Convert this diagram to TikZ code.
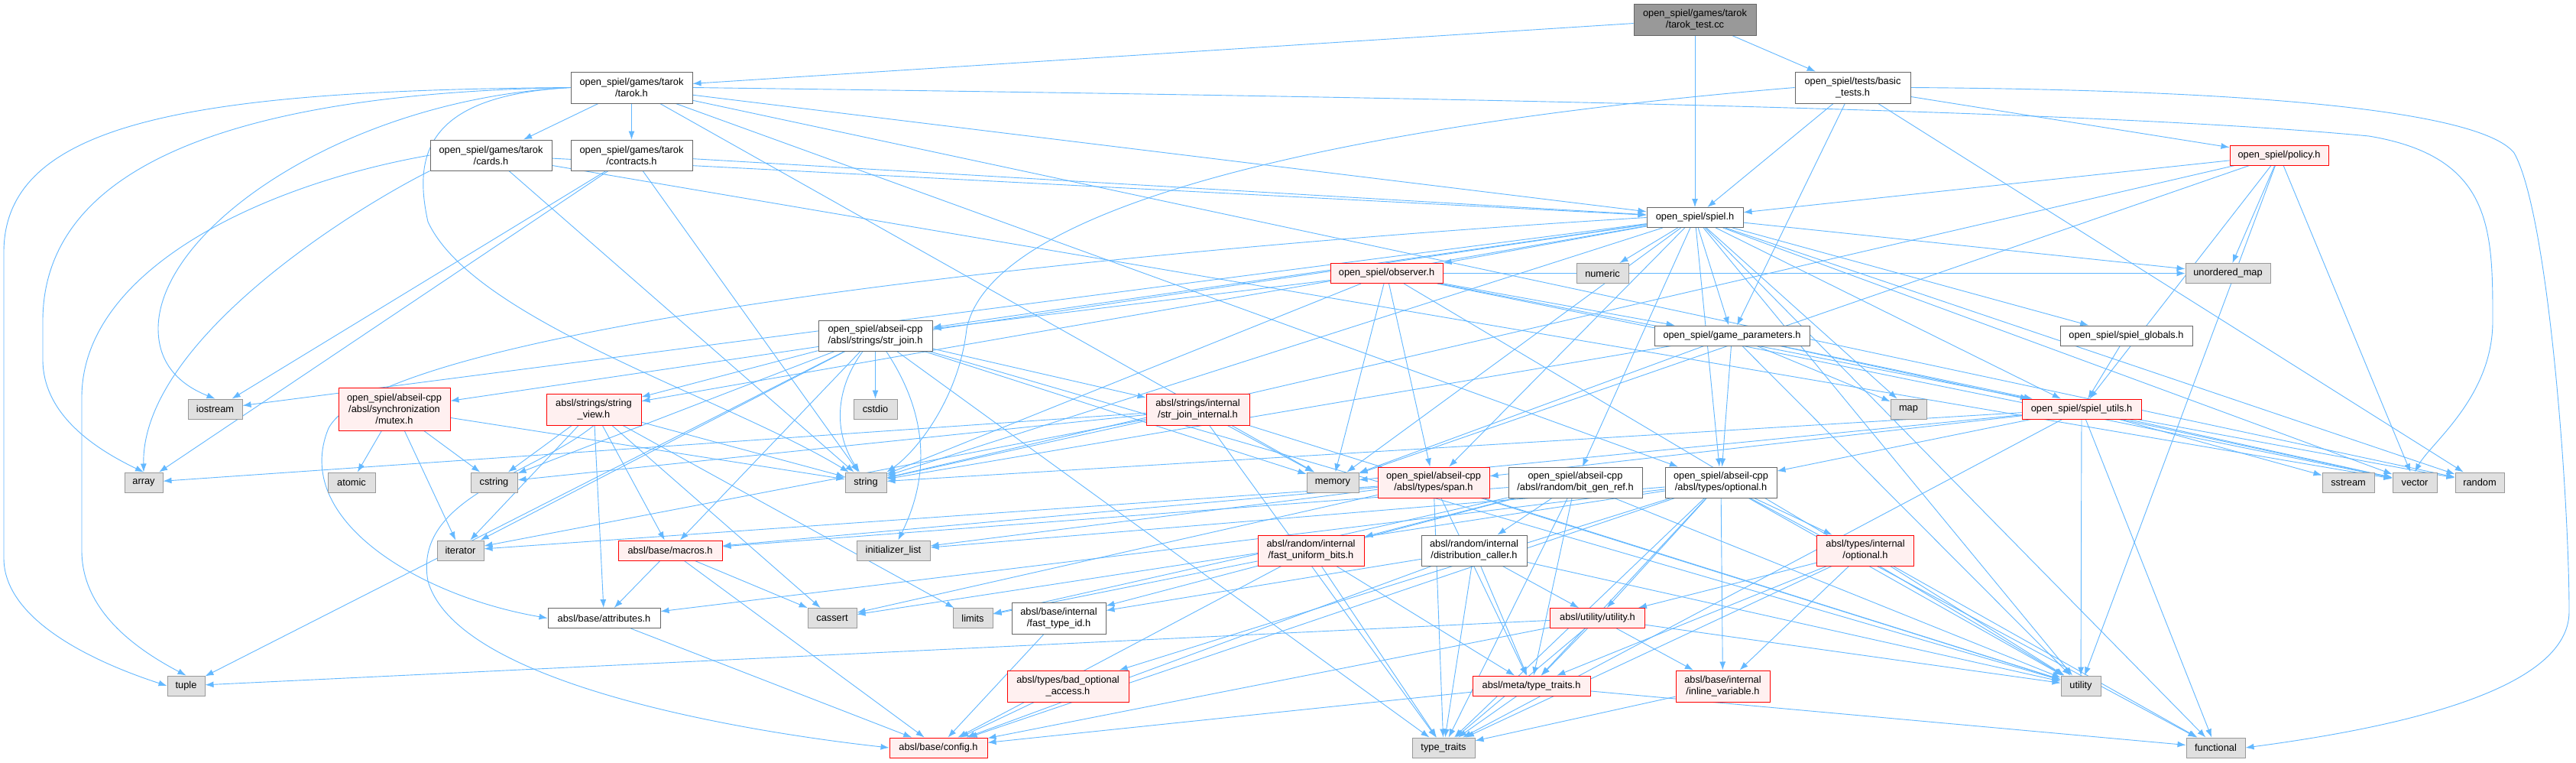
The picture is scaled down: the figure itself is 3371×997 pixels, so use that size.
\documentclass[tikz,border=0pt]{standalone}
\usepackage{fontspec}
\setmainfont{Liberation Sans}
\usetikzlibrary{arrows.meta}
\pgfdeclarelayer{bg}
\pgfsetlayers{bg,main}
\definecolor{edgec}{HTML}{63B8FF}
\definecolor{redb}{HTML}{FF0000}
\definecolor{redf}{HTML}{FFF0F0}
\definecolor{sysf}{HTML}{E0E0E0}
\definecolor{sysb}{HTML}{999999}
\definecolor{plainb}{HTML}{666666}
\definecolor{rootf}{HTML}{999999}
\newcommand{\myedge}[2]{\draw[e] (#1) -- (#2);}
\begin{document}
\begin{tikzpicture}[x=1pt,y=-1pt,font=\fontsize{12.8}{15}\selectfont,
  box/.style={rectangle,inner sep=0pt,align=center,line width=1pt,text=black},
  plain/.style={box,draw=plainb,fill=white},
  sys/.style={box,draw=sysb,fill=sysf},
  red/.style={box,draw=redb,fill=redf},
  rootn/.style={box,draw=plainb,fill=rootf},
  sz/.style 2 args={minimum width=#1pt,minimum height=#2pt},
  e/.style={draw=edgec,line width=0.9pt,-{Latex[length=11pt,width=8pt]}}]
\useasboundingbox (0,0) rectangle (3371,997);
% nodes
\node[rootn,sz={160}{41}] (root) at (2218,25.5) {open\_spiel/games/tarok\\/tarok\_test.cc};
\node[plain,sz={159}{41}] (tarok) at (826.5,114.5) {open\_spiel/games/tarok\\/tarok.h};
\node[plain,sz={151}{41}] (basic) at (2424.5,114.5) {open\_spiel/tests/basic\\\_tests.h};
\node[plain,sz={159}{40}] (cards) at (642.5,203) {open\_spiel/games/tarok\\/cards.h};
\node[plain,sz={159}{40}] (contracts) at (826.5,203) {open\_spiel/games/tarok\\/contracts.h};
\node[red,sz={129}{26}] (policy) at (2982.5,203) {open\_spiel/policy.h};
\node[plain,sz={126}{26}] (spiel) at (2218,284.5) {open\_spiel/spiel.h};
\node[red,sz={147}{26}] (observer) at (1814.5,357.5) {open\_spiel/observer.h};
\node[sys,sz={68}{26}] (numeric) at (2097,357.5) {numeric};
\node[sys,sz={111}{26}] (umap) at (2915.5,357.5) {unordered\_map};
\node[plain,sz={149}{40}] (strjoin) at (1145.5,439) {open\_spiel/abseil-cpp\\/absl/strings/str\_join.h};
\node[plain,sz={203}{26}] (gparams) at (2266.5,439) {open\_spiel/game\_parameters.h};
\node[plain,sz={173}{26}] (globals) at (2782.5,439) {open\_spiel/spiel\_globals.h};
\node[sys,sz={71}{26}] (iostream) at (281.5,535) {iostream};
\node[red,sz={146}{56}] (mutex) at (516,535) {open\_spiel/abseil-cpp\\/absl/synchronization\\/mutex.h};
\node[red,sz={124}{41}] (sview) at (777,535.5) {absl/strings/string\\\_view.h};
\node[sys,sz={57}{26}] (cstdio) at (1145.5,535) {cstdio};
\node[red,sz={135}{41}] (sjint) at (1567.5,535.5) {absl/strings/internal\\/str\_join\_internal.h};
\node[sys,sz={47}{26}] (map) at (2497.5,535) {map};
\node[red,sz={156}{26}] (sutils) at (2724,535) {open\_spiel/spiel\_utils.h};
\node[sys,sz={50}{26}] (array) at (188,631) {array};
\node[sys,sz={62}{26}] (atomic) at (460,631) {atomic};
\node[sys,sz={61}{26}] (cstring) at (646.5,631) {cstring};
\node[sys,sz={54}{26}] (string) at (1133,631) {string};
\node[sys,sz={68}{26}] (memory) at (1744,631) {memory};
\node[red,sz={146}{40}] (span) at (1876,631) {open\_spiel/abseil-cpp\\/absl/types/span.h};
\node[plain,sz={175}{40}] (bitgen) at (2061.5,631) {open\_spiel/abseil-cpp\\/absl/random/bit\_gen\_ref.h};
\node[plain,sz={146}{40}] (optional) at (2252,631) {open\_spiel/abseil-cpp\\/absl/types/optional.h};
\node[sys,sz={68}{26}] (sstream) at (3073,631) {sstream};
\node[sys,sz={58}{26}] (vector) at (3160,631) {vector};
\node[sys,sz={64}{26}] (random) at (3245,631) {random};
\node[sys,sz={61}{26}] (iterator) at (602.5,720) {iterator};
\node[red,sz={136}{26}] (macros) at (877,720) {absl/base/macros.h};
\node[sys,sz={96}{26}] (initlist) at (1169,720) {initializer\_list};
\node[red,sz={139}{40}] (fub) at (1715.5,720) {absl/random/internal\\/fast\_uniform\_bits.h};
\node[plain,sz={138}{40}] (dcall) at (1929,720) {absl/random/internal\\/distribution\_caller.h};
\node[red,sz={127}{40}] (iopt) at (2441,720) {absl/types/internal\\/optional.h};
\node[plain,sz={147}{26}] (attr) at (790.5,808.5) {absl/base/attributes.h};
\node[sys,sz={64}{26}] (cassert) at (1089,808.5) {cassert};
\node[sys,sz={52}{26}] (limits) at (1273,808.5) {limits};
\node[plain,sz={123}{41}] (ftid) at (1385.5,808.5) {absl/base/internal\\/fast\_type\_id.h};
\node[red,sz={124}{26}] (uutil) at (2090.5,808.5) {absl/utility/utility.h};
\node[sys,sz={49}{26}] (tuple) at (243.5,897) {tuple};
\node[red,sz={159}{41}] (badopt) at (1397.5,897.5) {absl/types/bad\_optional\\\_access.h};
\node[red,sz={154}{26}] (mtt) at (2004,897) {absl/meta/type\_traits.h};
\node[red,sz={123}{41}] (ivar) at (2254.5,897.5) {absl/base/internal\\/inline\_variable.h};
\node[sys,sz={52}{26}] (utility) at (2723,897) {utility};
\node[red,sz={128}{26}] (config) at (1228,978) {absl/base/config.h};
\node[sys,sz={82}{26}] (ttraits) at (1889,978) {type\_traits};
\node[sys,sz={77}{26}] (functional) at (2899.5,978) {functional};
% edges
\begin{pgfonlayer}{bg}
\fill[white] (0,0) rectangle (3371,997);
\myedge{root}{tarok}\myedge{root}{spiel}\myedge{root}{basic}
% tarok
\myedge{tarok}{cards}\myedge{tarok}{contracts}\myedge{tarok}{spiel}
\myedge{tarok}{memory}\myedge{tarok}{random}\myedge{tarok}{optional}
\draw[e] (tarok.west) .. controls (250,118) and (5,160) .. (5,330) -- (5,730) .. controls (5,810) and (120,865) .. (tuple.west);
\draw[e] (tarok.west) .. controls (300,122) and (56,220) .. (56,420) -- (56,470) .. controls (56,540) and (120,585) .. (array.north);
\draw[e] (tarok.west) .. controls (450,130) and (207,300) .. (207,430) .. controls (207,480) and (240,505) .. (iostream.north);
\draw[e] (tarok.west) .. controls (560,125) and (540,200) .. (560,290) .. controls (620,420) and (950,520) .. (string);
\draw[e] (tarok.east) .. controls (1700,125) and (2700,140) .. (3100,178) .. controls (3262,205) and (3262,300) .. (3262,420) .. controls (3262,520) and (3180,580) .. (vector.north);
% cards / contracts
\myedge{cards}{spiel}\myedge{cards}{vector}\myedge{cards}{string}
\draw[e] (cards.west) .. controls (350,240) and (107,350) .. (107,520) -- (107,720) .. controls (107,800) and (180,850) .. (tuple.north);
\draw[e] (cards.south west) .. controls (450,280) and (185,450) .. (array.north);
\myedge{contracts}{spiel}\myedge{contracts}{string}\myedge{contracts}{iostream}\myedge{contracts}{array}
% basic
\myedge{basic}{spiel}\myedge{basic}{gparams}\myedge{basic}{policy}\myedge{basic}{random}
\draw[e] (basic.west) .. controls (1800,160) and (1300,260) .. (1265,430) .. controls (1255,520) and (1200,590) .. (string.north east);
\draw[e] (basic.east) .. controls (3000,118) and (3250,150) .. (3290,200) .. controls (3335,280) and (3362,650) .. (3362,800) .. controls (3362,900) and (3150,950) .. (functional.east);
% policy
\myedge{policy}{spiel}\myedge{policy}{sutils}\myedge{policy}{umap}\myedge{policy}{vector}
\myedge{policy}{utility}\myedge{policy}{string}\myedge{policy}{memory}
% spiel
\myedge{spiel}{observer}\myedge{spiel}{numeric}\myedge{spiel}{gparams}\myedge{spiel}{strjoin}
\myedge{spiel}{mutex}\myedge{spiel}{sview}\myedge{spiel}{memory}\myedge{spiel}{span}
\myedge{spiel}{bitgen}\myedge{spiel}{optional}\myedge{spiel}{map}\myedge{spiel}{sutils}
\myedge{spiel}{globals}\myedge{spiel}{umap}\myedge{spiel}{vector}\myedge{spiel}{random}
\myedge{spiel}{functional}\myedge{spiel}{utility}\myedge{spiel}{iostream}\myedge{spiel}{string}
\draw[e] (spiel.west) .. controls (1400,330) and (500,430) .. (430,560) .. controls (380,680) and (550,780) .. (attr.west);
% observer
\myedge{observer}{memory}\myedge{observer}{span}\myedge{observer}{gparams}\myedge{observer}{string}
\myedge{observer}{strjoin}\myedge{observer}{sutils}\myedge{observer}{umap}\myedge{observer}{vector}
\myedge{observer}{utility}
% strjoin
\myedge{strjoin}{cstdio}\myedge{strjoin}{sjint}\myedge{strjoin}{sview}
\draw[e] (strjoin) to[bend right=35] (string);
\draw[e] (strjoin) to[bend left=30] (initlist);
\myedge{strjoin}{macros}\myedge{strjoin}{iterator}\myedge{strjoin}{cstring}
\myedge{strjoin}{tuple}\myedge{strjoin}{ttraits}\myedge{strjoin}{utility}\myedge{strjoin}{memory}
% gparams, globals
\myedge{gparams}{map}\myedge{gparams}{memory}\myedge{gparams}{string}\myedge{gparams}{utility}
\myedge{gparams}{vector}\myedge{gparams}{sutils}\myedge{gparams}{optional}
\myedge{globals}{sutils}
% spiel_utils
\myedge{sutils}{sstream}\myedge{sutils}{vector}\myedge{sutils}{random}\myedge{sutils}{utility}
\myedge{sutils}{functional}\myedge{sutils}{string}\myedge{sutils}{memory}\myedge{sutils}{optional}
\myedge{sutils}{span}\myedge{sutils}{ttraits}
% mutex, string_view
\myedge{mutex}{atomic}\myedge{mutex}{cstring}\myedge{mutex}{iterator}\myedge{mutex}{string}
\myedge{sview}{cstring}\myedge{sview}{iterator}\myedge{sview}{attr}\myedge{sview}{macros}
\myedge{sview}{string}\myedge{sview}{limits}\myedge{sview}{cassert}
\draw[e] (sview.south) .. controls (700,620) and (540,650) .. (560,760) .. controls (600,900) and (1000,960) .. (config.west);
% str_join_internal
\myedge{sjint}{array}\myedge{sjint}{memory}\myedge{sjint}{string}\myedge{sjint}{iterator}
\myedge{sjint}{cstring}\myedge{sjint}{ttraits}\myedge{sjint}{utility}
% span
\myedge{span}{cassert}\myedge{span}{initlist}\myedge{span}{iterator}\myedge{span}{ttraits}
\myedge{span}{utility}\myedge{span}{macros}\myedge{span}{mtt}
% bit_gen_ref
\myedge{bitgen}{limits}\myedge{bitgen}{ttraits}\myedge{bitgen}{utility}\myedge{bitgen}{ftid}
\myedge{bitgen}{macros}\myedge{bitgen}{mtt}\myedge{bitgen}{dcall}\myedge{bitgen}{fub}
% optional
\myedge{optional}{config}\myedge{optional}{uutil}\myedge{optional}{cassert}\myedge{optional}{functional}
\myedge{optional}{initlist}\myedge{optional}{ttraits}\myedge{optional}{utility}\myedge{optional}{attr}
\myedge{optional}{ivar}\myedge{optional}{mtt}\myedge{optional}{badopt}\myedge{optional}{iopt}
% distribution_caller, fast_uniform_bits, fast_type_id
\myedge{dcall}{utility}\myedge{dcall}{ttraits}\myedge{dcall}{config}\myedge{dcall}{ftid}
\myedge{dcall}{mtt}\myedge{dcall}{uutil}
\myedge{fub}{limits}\myedge{fub}{ttraits}\myedge{fub}{config}\myedge{fub}{mtt}
\myedge{ftid}{config}
% internal optional
\myedge{iopt}{functional}\myedge{iopt}{ttraits}\myedge{iopt}{utility}\myedge{iopt}{ivar}
\myedge{iopt}{mtt}\myedge{iopt}{uutil}
% utility.h
\myedge{uutil}{tuple}\myedge{uutil}{ttraits}\myedge{uutil}{utility}\myedge{uutil}{config}
\myedge{uutil}{ivar}\myedge{uutil}{mtt}
% base
\myedge{macros}{cassert}\myedge{macros}{attr}\myedge{macros}{config}
\myedge{attr}{config}\myedge{badopt}{config}
\myedge{mtt}{config}\myedge{mtt}{functional}\myedge{mtt}{ttraits}
\myedge{ivar}{ttraits}
\end{pgfonlayer}
\end{tikzpicture}
\end{document}
